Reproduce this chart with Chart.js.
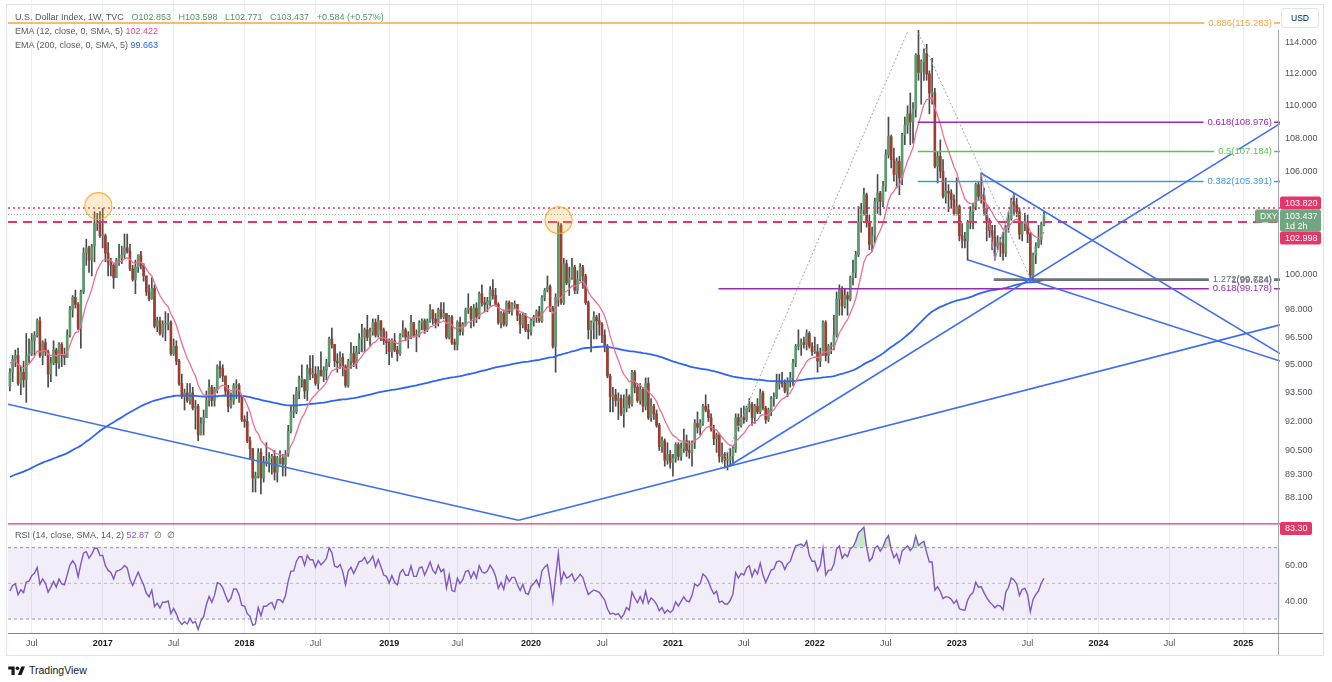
<!DOCTYPE html>
<html>
<head>
<meta charset="utf-8">
<title>DXY weekly</title>
<script src="https://cdn.jsdelivr.net/npm/chart.js@4.4.1/dist/chart.umd.min.js"></script>
<style>
  html, body { margin: 0; padding: 0; background: #fff; }
  #wrap { position: relative; width: 1332px; height: 682px; overflow: hidden; font-family: "Liberation Sans", Arial, sans-serif; }
  #frame { position: absolute; left: 6px; top: 4px; width: 1316px; height: 650px; border: 1px solid #e0e3eb; }
  .pane { position: absolute; left: 0; }
  .lg { position: absolute; left: 15px; font-size: 9px; line-height: 12px; color: #555963; white-space: pre; }
  .lg .v { color: #4f9668; margin-left: 5px; }
  #usd { position: absolute; left: 1281px; top: 8px; width: 36px; height: 18px; border: 1px solid #e0e3eb; border-radius: 3px;
         font-size: 8.5px; line-height: 18px; text-align: center; color: #131722; background: #fff; }
  #vaxis { position: absolute; left: 1278px; top: 30px; width: 1px; height: 625px; background: #a3a6af; }
  #taxis { position: absolute; left: 8px; top: 633px; width: 1315px; height: 1px; background: #80838d; }
  #tv { position: absolute; left: 8px; top: 664px; display: flex; align-items: center; }
  #tv span { font-size: 10.5px; color: #131722; margin-left: 4px; }
</style>
</head>
<body>
<div id="wrap">
  <div id="frame"></div>
  <div class="pane" style="top:0"><canvas id="mainChart" width="1332" height="521" style="width:1332px;height:521px"></canvas></div>
  <div class="pane" style="top:521px"><canvas id="rsiChart" width="1332" height="134" style="width:1332px;height:134px"></canvas></div>
  <div id="vaxis"></div>
  <div id="taxis"></div>
  <div class="lg" style="top:11px">U.S. Dollar Index, 1W, TVC <span class="v">O102.853</span> <span class="v">H103.598</span> <span class="v">L102.771</span> <span class="v">C103.437</span> <span class="v">+0.584 (+0.57%)</span></div>
  <div class="lg" style="top:25px">EMA (12, close, 0, SMA, 5) <span style="color:#e9487a">102.422</span></div>
  <div class="lg" style="top:39px">EMA (200, close, 0, SMA, 5) <span style="color:#2962ff">99.663</span></div>
  <div class="lg" style="top:529px">RSI (14, close, SMA, 14, 2) <span style="color:#7e57c2">52.87</span>  ∅  ∅</div>
  <div id="usd">USD</div>
  <div id="tv">
    <svg width="17" height="11" viewBox="0 0 36 24"><path d="M14 22H7V10H0V3h14v19zM29 22h-8l7.5-19h8L29 22z" fill="#131722"/><circle cx="20" cy="7" r="4" fill="#131722"/></svg>
    <span>TradingView</span>
  </div>
</div>
<script>
// weekly bars, week 0 = 9 May 2016
const firstOpen = 93.85;
const closes = [
  94.6, 95.3, 95.5, 94.0, 94.6, 94.2, 95.5, 95.6, 96.3, 96.6, 97.4, 95.5, 96.2, 95.7, 94.5, 95.1, 95.8, 95.1, 96.1, 95.5, 95.4, 96.6, 98.0, 98.7, 98.3, 97.0, 99.0, 101.2, 101.5, 100.8, 101.6, 102.9, 102.9, 102.2,
  102.2, 101.2, 100.7, 100.5, 99.8, 100.8, 100.9, 101.1, 101.5, 101.3, 100.3, 99.7, 100.4, 101.1, 100.5, 99.9, 99.0, 98.6, 99.2, 97.1, 97.4, 96.7, 97.2, 97.2, 97.3, 95.6, 96.0, 95.2, 94.0, 93.3, 93.5, 93.1, 93.5, 92.7, 92.8, 91.3, 91.9, 92.2, 93.1, 93.8, 93.1, 93.7, 94.9, 94.8, 94.4, 93.6, 92.8, 93.1, 93.9, 93.9, 93.3, 92.1,
  92.0, 91.0, 90.6, 89.1, 89.2, 90.4, 89.1, 89.9, 89.9, 90.1, 90.2, 89.4, 90.1, 90.1, 89.8, 90.3, 91.5, 92.5, 92.5, 93.6, 94.2, 94.2, 93.6, 94.8, 94.5, 94.5, 94.0, 94.7, 94.4, 94.7, 95.1, 96.4, 96.1, 95.2, 95.1, 95.4, 94.9, 93.9, 95.2, 95.6, 95.1, 95.7, 96.4, 96.5, 96.9, 96.5, 96.8, 97.3, 96.6, 97.4, 96.9, 96.3,
  96.2, 95.7, 96.3, 95.8, 95.6, 96.6, 96.9, 96.5, 96.5, 97.3, 96.6, 96.6, 97.3, 97.4, 96.9, 97.4, 98.0, 97.5, 97.3, 98.0, 97.6, 97.8, 96.5, 97.6, 96.2, 96.1, 97.3, 96.8, 97.2, 98.0, 98.1, 97.5, 98.1, 97.6, 98.9, 98.4, 98.3, 98.5, 99.1, 98.8, 98.3, 97.3, 97.8, 97.2, 98.4, 97.9, 98.3, 98.3, 97.7, 97.2, 97.7, 96.9,
  96.8, 97.4, 97.6, 97.9, 97.4, 98.7, 99.1, 99.3, 98.1, 96.0, 98.7, 102.8, 98.4, 100.6, 99.5, 99.8, 100.4, 99.1, 99.7, 100.4, 99.9, 98.4, 96.9, 97.3, 97.6, 97.4, 97.2, 96.6, 96.0, 94.4, 93.3, 93.4, 93.1, 93.2, 92.4, 92.7, 93.3, 92.9, 94.6, 93.8, 93.1, 93.7, 92.8, 94.0, 92.2, 92.8, 92.4, 91.8, 90.7, 91.0, 90.0, 90.3, 89.9,
  90.1, 90.8, 90.2, 90.6, 91.0, 90.5, 90.4, 90.9, 91.9, 91.7, 91.9, 92.8, 92.6, 92.2, 91.6, 91.1, 91.3, 90.2, 90.3, 90.0, 90.0, 90.2, 90.6, 92.2, 91.8, 92.2, 92.1, 92.7, 92.9, 92.2, 92.8, 92.5, 93.5, 92.7, 92.1, 92.6, 93.2, 93.3, 94.0, 94.1, 94.0, 93.6, 94.1, 94.3, 95.1, 96.0, 96.1, 96.2, 96.1, 96.7, 96.0, 95.7,
  95.7, 95.2, 95.6, 97.3, 95.5, 96.0, 96.0, 96.6, 98.6, 99.1, 98.2, 98.8, 98.6, 99.8, 100.1, 101.1, 103.0, 103.7, 104.6, 103.0, 101.7, 102.2, 104.2, 104.7, 104.2, 105.1, 107.0, 108.1, 106.7, 105.8, 106.6, 105.6, 108.2, 108.8, 109.5, 109.0, 109.8, 113.2, 112.1, 112.8, 113.3, 112.0, 110.8, 110.8, 106.3, 106.9, 106.0, 104.5, 104.8, 104.7, 104.3, 103.5,
  103.9, 102.2, 102.0, 101.9, 103.0, 103.6, 103.9, 105.2, 104.5, 104.6, 103.8, 103.1, 102.5, 102.1, 101.6, 101.8, 101.7, 101.2, 102.7, 103.2, 104.2, 104.0, 103.6, 102.3, 102.9, 103.0, 102.3, 99.9, 101.1, 101.6, 102.0, 102.853, 103.437
];
const highs = [
  94.8, 95.5, 95.8, 95.9, 94.9, 95.2, 96.7, 96.4, 96.7, 96.8, 97.5, 97.6, 96.3, 96.4, 95.8, 95.4, 96.3, 95.9, 96.2, 96.2, 95.9, 96.9, 98.2, 98.8, 99.1, 98.4, 99.1, 101.5, 102.0, 101.6, 101.7, 103.6, 103.5, 103.6,
  103.8, 102.3, 101.8, 100.9, 100.6, 100.9, 101.7, 101.6, 102.3, 102.3, 101.7, 100.5, 100.8, 101.1, 101.3, 100.6, 99.5, 99.4, 99.8, 99.4, 97.6, 97.6, 97.4, 97.9, 97.8, 97.4, 96.4, 96.3, 95.3, 94.5, 93.7, 94.0, 94.0, 93.8, 93.1, 92.9, 92.2, 92.6, 93.6, 94.2, 93.9, 93.8, 95.0, 95.2, 95.0, 94.4, 93.9, 93.5, 94.0, 94.2, 94.0, 93.3,
  92.3, 92.5, 91.2, 90.6, 89.4, 90.6, 90.6, 90.2, 90.9, 90.4, 90.3, 90.5, 90.2, 90.5, 90.3, 90.5, 91.8, 92.8, 93.4, 93.8, 94.4, 95.0, 94.2, 95.0, 95.5, 95.5, 94.9, 94.9, 95.7, 94.9, 95.3, 96.5, 97.0, 96.1, 95.6, 95.7, 95.6, 95.0, 95.3, 96.2, 96.0, 96.0, 96.7, 97.2, 97.0, 97.7, 97.0, 97.5, 97.5, 97.7, 97.4, 97.0,
  96.8, 96.4, 96.4, 96.7, 96.0, 96.7, 97.4, 97.0, 96.8, 97.7, 97.3, 96.9, 97.4, 97.5, 97.5, 97.5, 98.3, 98.0, 97.8, 98.1, 98.4, 98.4, 97.8, 97.7, 97.7, 96.4, 97.4, 97.6, 97.3, 98.1, 98.9, 98.2, 98.3, 98.4, 99.0, 99.4, 98.7, 98.7, 99.3, 99.7, 99.2, 98.4, 97.9, 98.0, 98.5, 98.5, 98.4, 98.5, 98.3, 97.8, 97.8, 97.8,
  97.2, 97.5, 97.7, 98.0, 98.2, 98.8, 99.2, 99.9, 99.4, 98.2, 98.9, 103.0, 102.9, 100.9, 100.8, 100.4, 100.9, 100.5, 100.2, 100.6, 100.5, 100.0, 98.5, 97.4, 97.9, 97.7, 97.8, 97.3, 96.9, 96.1, 94.5, 93.8, 93.7, 93.5, 93.4, 93.4, 93.7, 93.4, 94.7, 94.7, 94.0, 94.0, 93.8, 94.3, 94.3, 93.2, 92.9, 92.6, 91.9, 91.2, 91.1, 90.9, 90.5,
  90.3, 90.9, 90.9, 90.9, 91.6, 91.3, 91.0, 91.0, 92.1, 92.5, 92.1, 92.9, 93.4, 92.9, 92.4, 91.8, 91.4, 91.4, 90.9, 90.4, 90.4, 90.6, 90.7, 92.4, 92.4, 92.7, 92.8, 92.8, 93.2, 93.0, 92.9, 93.2, 93.7, 93.6, 92.8, 92.7, 93.3, 93.5, 94.5, 94.5, 94.6, 94.2, 94.3, 94.6, 95.3, 96.1, 96.9, 96.4, 96.5, 96.9, 96.8, 96.2,
  96.5, 96.1, 95.9, 97.4, 97.4, 96.1, 96.2, 97.7, 99.0, 99.4, 99.3, 99.2, 99.0, 99.9, 100.8, 101.3, 103.9, 104.1, 105.0, 104.7, 103.4, 102.7, 104.4, 105.8, 104.8, 105.4, 107.3, 109.3, 108.2, 107.4, 106.8, 106.9, 108.3, 109.3, 110.0, 110.8, 110.2, 113.3, 114.8, 112.9, 113.6, 113.9, 112.2, 113.0, 111.1, 107.2, 107.9, 106.7, 105.6, 105.2, 104.9, 104.6,
  105.6, 104.0, 102.9, 102.4, 103.1, 103.9, 104.1, 105.3, 105.4, 105.9, 105.0, 104.0, 103.2, 102.8, 102.8, 102.2, 102.1, 102.4, 102.8, 103.6, 104.4, 104.7, 104.4, 103.8, 103.0, 103.5, 103.4, 102.4, 101.2, 101.8, 102.8, 103.0, 103.598
];
const lows = [
  93.6, 94.1, 94.9, 93.9, 93.4, 93.8, 93.0, 95.1, 95.5, 95.5, 96.5, 95.4, 95.0, 95.5, 93.8, 94.1, 95.0, 94.4, 94.8, 94.9, 95.0, 95.4, 96.5, 97.6, 98.1, 96.9, 95.9, 98.9, 100.5, 100.1, 99.9, 100.7, 102.5, 102.1,
  101.5, 100.7, 99.9, 99.9, 99.2, 99.8, 100.5, 100.6, 100.9, 101.2, 100.2, 99.6, 98.9, 100.1, 100.3, 99.6, 98.8, 98.5, 98.6, 97.0, 96.8, 96.6, 96.5, 96.3, 96.9, 95.5, 95.5, 95.0, 93.9, 93.2, 92.6, 93.0, 92.9, 92.6, 91.6, 91.0, 91.3, 91.3, 92.2, 92.8, 92.8, 92.8, 93.5, 94.3, 94.1, 93.4, 92.5, 92.7, 92.9, 93.2, 93.0, 92.0,
  91.7, 90.9, 90.1, 88.4, 88.4, 89.1, 88.3, 88.9, 89.7, 89.4, 89.3, 89.0, 88.9, 89.8, 89.2, 89.2, 90.2, 91.4, 92.2, 92.4, 93.2, 93.8, 93.2, 93.1, 94.2, 94.3, 93.9, 93.7, 94.4, 94.1, 94.2, 94.9, 95.9, 94.9, 94.6, 94.8, 94.4, 93.8, 93.8, 94.8, 94.9, 94.8, 95.6, 95.7, 95.7, 96.3, 96.0, 96.6, 96.5, 96.5, 96.3, 96.1,
  95.6, 95.0, 95.4, 95.7, 95.2, 95.5, 96.5, 96.3, 95.9, 96.4, 96.5, 95.7, 96.5, 96.9, 96.7, 96.8, 97.3, 97.2, 97.0, 97.1, 97.5, 97.5, 96.4, 96.4, 96.1, 95.8, 95.8, 96.6, 96.6, 97.1, 97.8, 97.0, 97.1, 97.3, 97.5, 98.2, 97.9, 97.9, 98.2, 98.6, 98.2, 97.2, 97.0, 97.1, 97.1, 97.8, 97.7, 98.1, 97.4, 96.7, 97.0, 96.8,
  96.4, 96.6, 97.1, 97.3, 97.3, 97.3, 98.5, 99.0, 97.9, 95.9, 94.6, 98.2, 98.3, 98.3, 99.4, 98.8, 99.7, 98.9, 98.9, 99.6, 99.2, 98.3, 96.4, 95.7, 96.4, 96.4, 96.6, 96.2, 95.7, 94.3, 92.5, 92.5, 92.8, 92.1, 92.3, 91.7, 92.5, 92.7, 92.8, 93.5, 93.0, 92.9, 92.5, 92.6, 92.1, 92.0, 92.1, 91.7, 90.5, 90.4, 89.7, 89.8, 89.6,
  89.2, 89.9, 90.0, 90.0, 90.4, 90.2, 90.1, 89.7, 90.6, 91.4, 91.3, 91.8, 92.5, 92.0, 91.5, 90.8, 90.4, 89.9, 89.9, 89.6, 89.5, 89.7, 89.8, 90.4, 91.5, 91.7, 91.9, 92.0, 92.5, 91.8, 91.9, 92.4, 92.4, 92.6, 91.9, 92.0, 92.3, 92.8, 93.2, 93.7, 93.8, 93.5, 93.3, 93.8, 93.9, 94.9, 95.8, 95.5, 95.9, 95.8, 95.9, 95.5,
  95.6, 94.6, 94.9, 95.5, 95.2, 95.1, 95.6, 95.8, 96.5, 97.7, 97.7, 98.1, 97.7, 98.5, 99.4, 99.8, 101.0, 102.4, 103.4, 102.7, 101.4, 101.3, 101.8, 103.5, 103.4, 103.9, 104.8, 106.8, 106.2, 105.4, 105.0, 104.6, 105.2, 107.6, 108.3, 107.6, 107.7, 109.3, 111.6, 110.1, 111.6, 111.6, 109.5, 110.1, 106.2, 105.3, 105.6, 104.4, 104.1, 103.6, 103.8, 103.4,
  103.4, 101.9, 101.5, 101.5, 100.8, 102.6, 102.6, 103.7, 104.3, 104.1, 103.4, 101.9, 102.1, 101.4, 100.8, 101.4, 101.0, 100.8, 101.0, 102.4, 103.1, 103.4, 103.3, 102.0, 101.9, 102.5, 101.8, 99.6, 99.6, 100.6, 101.5, 101.7, 102.771
];

// time axis: week index of the first bar of each labelled month
const timeTickWeeks = [8, 34, 60, 86, 112, 139, 164, 191, 217, 243, 269, 295, 321, 347, 373, 399, 425, 452];
const timeTickLabels = ['Jul', '2017', 'Jul', '2018', 'Jul', '2019', 'Jul', '2020', 'Jul', '2021', 'Jul', '2022', 'Jul', '2023', 'Jul', '2024', 'Jul', '2025'];
const priceTicks = [114, 112, 110, 108, 106, 100, 98, 96.5, 95, 93.5, 92, 90.5, 89.3, 88.1];
const rsiTicks = [60, 40];

// indicator seeds (values before the first visible bar)
const ema12Seed = 95.2;
const ema200Seed = 89.1;
const rsiSeedGain = 0.38, rsiSeedLoss = 0.52;

// drawings: [week, price] pairs
const trendLines = [
  [-0.7, 92.9, 186.4, 87.0],
  [186.4, 87.0, 465.5, 97.17],
  [263.4, 89.7, 465.5, 108.9],
  [351, 100.82, 465.5, 95.2],
  [356, 105.88, 465.5, 95.6]
];
const fibRays = [[260.5, 89.61, 329.1, 114.76], [333.1, 114.6, 374.2, 99.7]];
const zigzag = [[356, 105.88], [361, 100.79], [368, 104.7]];
const fibLevels = [
  { from: -0.7, price: 115.283, text: '0.886(115.283)', color: '#f7a542' },
  { from: 332.7, price: 108.976, text: '0.618(108.976)', color: '#9c27b0' },
  { from: 332.7, price: 107.184, text: '0.5(107.184)', color: '#5cc450' },
  { from: 332.7, price: 105.391, text: '0.382(105.391)', color: '#3d9bd8' },
  { from: 360.6, price: 99.724, text: '1.272(99.724)', color: '#6a6d78' },
  { from: 360.6, price: 99.664, text: '1(99.664)', color: '#6a6d78' },
  { from: 259.7, price: 99.178, text: '0.618(99.178)', color: '#9c27b0' }
];
const markCircles = [[32.4, 103.93], [201.1, 103.1]];
const highLine = 103.82, lastClose = 103.437, covidHigh = 102.998;
const rsiHighLine = 83.3;

const X_MIN = -0.7, X_MAX = 465.5;
const FONT = '"Liberation Sans", Arial, sans-serif';

// --- build bars and indicators ---
const opens = closes.map((c, i) => i === 0 ? firstOpen : closes[i - 1]);
const wickData = [], bodyData = [], barColors = [];
closes.forEach((c, i) => {
  const o = opens[i];
  wickData.push({ x: i, y: [Math.min(lows[i], o, c), Math.max(highs[i], o, c)] });
  bodyData.push({ x: i, y: [o, c] });
  barColors.push(c >= o ? '#5b9a6d' : '#9e3d2f');
});

function ema(values, len, seed) {
  const k = 2 / (len + 1);
  let e = seed;
  return values.map((v, i) => { e += k * (v - e); return { x: i, y: e }; });
}

function rsi(values, len, g0, l0) {
  let ag = g0, al = l0;
  return values.map((v, i) => {
    const d = v - (i === 0 ? firstOpen : values[i - 1]);
    ag = (ag * (len - 1) + Math.max(d, 0)) / len;
    al = (al * (len - 1) + Math.max(-d, 0)) / len;
    return { x: i, y: 100 - 100 / (1 + ag / al) };
  });
}

const seg = (a, b, c, d) => [{ x: a, y: b }, { x: c, y: d }];
const flat = (v, from) => seg(from === undefined ? X_MIN : from, v, X_MAX, v);

function lineSet(data, color, width, dash, order) {
  return { type: 'line', data, borderColor: color, borderWidth: width, borderDash: dash || [],
           pointRadius: 0, fill: false, tension: 0, order: order || 2 };
}

const mainSets = [
  { type: 'bar', data: wickData, backgroundColor: '#4b4b4b', barThickness: 1, grouped: false, order: 7 },
  { type: 'bar', data: bodyData, backgroundColor: barColors, barThickness: 2, minBarLength: 1, grouped: false, order: 6 },
  lineSet(ema(closes, 12, ema12Seed), '#ec6f91', 1.3, null, 4),
  lineSet(ema(closes, 200, ema200Seed), '#2f63f5', 1.8, null, 4),
  lineSet(flat(highLine), '#e5366a', 1.5, [2, 3], 3),
  lineSet(flat(covidHigh), '#e5366a', 2, [9, 6], 3),
  lineSet(flat(lastClose), '#9fb3a6', 1, [1, 2], 3),
  lineSet(zigzag.map(p => ({ x: p[0], y: p[1] })), '#b584c9', 1, null, 3)
];
fibLevels.forEach(f => mainSets.push(lineSet(flat(f.price, f.from), f.color, f.color === '#6a6d78' ? 1.6 : 1.5, null, 3)));
fibRays.forEach(l => mainSets.push(lineSet(seg(...l), '#a3a6af', 1, [2, 2], 2)));
trendLines.forEach(l => mainSets.push(lineSet(seg(...l), '#3d6ef2', 1.6, null, 1)));

function box(ctx, x, y, w, h, color, lines) {
  ctx.fillStyle = color;
  ctx.beginPath(); ctx.roundRect(x, y, w, h, 2); ctx.fill();
  ctx.fillStyle = '#fff';
  ctx.textAlign = 'left'; ctx.textBaseline = 'middle';
  lines.forEach((t, i) => ctx.fillText(t, x + 5, y + 6.8 + i * 10));
}

const mainOverlay = {
  id: 'mainOverlay',
  afterDatasetsDraw(chart) {
    const { ctx, chartArea } = chart;
    const x = chart.scales.x, y = chart.scales.y;
    ctx.save();
    markCircles.forEach(c => {
      ctx.beginPath();
      ctx.arc(x.getPixelForValue(c[0]), y.getPixelForValue(c[1]), 13.5, 0, Math.PI * 2);
      ctx.fillStyle = 'rgba(255,167,38,0.22)'; ctx.fill();
      ctx.strokeStyle = 'rgba(255,167,38,0.85)'; ctx.lineWidth = 1.2; ctx.stroke();
    });
    ctx.font = '9.5px ' + FONT;
    ctx.textAlign = 'right'; ctx.textBaseline = 'middle';
    const tx = chartArea.right - 8;
    fibLevels.forEach(f => {
      const py = y.getPixelForValue(f.price);
      const w = ctx.measureText(f.text).width;
      ctx.fillStyle = '#fff';
      ctx.fillRect(tx - w - 4, py - 2, w + 6, 4);
    });
    fibLevels.forEach(f => {
      ctx.fillStyle = f.color;
      ctx.fillText(f.text, tx, y.getPixelForValue(f.price));
    });
    ctx.restore();
  },
  afterDraw(chart) {
    const { ctx, chartArea } = chart;
    const y = chart.scales.y;
    const gy = y.getPixelForValue(lastClose);
    const bx = chartArea.right;
    ctx.save();
    ctx.font = '9px ' + FONT;
    box(ctx, bx, gy - 18, 41, 13, '#e5366a', [highLine.toFixed(3)]);
    box(ctx, bx, gy - 5, 41, 22, '#70a680', [lastClose.toFixed(3), '1d 2h']);
    box(ctx, bx, gy + 17, 41, 13, '#e5366a', [covidHigh.toFixed(3)]);
    ctx.font = '8.5px ' + FONT;
    box(ctx, bx - 25, gy - 5, 24, 13, '#70a680', ['DXY']);
    ctx.restore();
  }
};

const xGrid = { color: '#eceef2', lineWidth: 1, drawTicks: false, offset: false };
// right price axis: fixed width, no extra top/bottom padding for labels
const fitRight = s => { s.width = 52; s.paddingTop = 0; s.paddingBottom = 0; };

new Chart(document.getElementById('mainChart'), {
  type: 'bar',
  data: { datasets: mainSets },
  options: {
    responsive: false, animation: false, devicePixelRatio: 1,
    layout: { padding: { left: 8, right: 0, top: 0, bottom: 0 } },
    plugins: { legend: { display: false }, tooltip: { enabled: false } },
    scales: {
      x: {
        type: 'linear', min: X_MIN, max: X_MAX, offset: false,
        afterBuildTicks: s => { s.ticks = timeTickWeeks.map(v => ({ value: v })); },
        afterFit: s => { s.height = 0; s.paddingLeft = 0; s.paddingRight = 0; },
        ticks: { display: false }, grid: xGrid, border: { display: false }
      },
      y: {
        type: 'logarithmic', position: 'right', min: 86.96, max: 116.79,
        afterBuildTicks: s => { s.ticks = priceTicks.map(v => ({ value: v })); },
        afterFit: fitRight,
        ticks: { callback: v => Number(v).toFixed(3), color: '#50535e', padding: 5, autoSkip: false,
                 font: { size: 9, family: FONT } },
        grid: { display: false, drawTicks: false }, border: { display: false }
      }
    }
  },
  plugins: [mainOverlay]
});

// --- RSI pane ---
const rsiOverlay = {
  id: 'rsiOverlay',
  afterDraw(chart) {
    const { ctx, chartArea } = chart;
    ctx.save();
    ctx.font = '9px ' + FONT;
    box(ctx, chartArea.right, chartArea.top + 1, 32, 13, '#e5366a', [rsiHighLine.toFixed(2)]);
    ctx.restore();
  }
};

new Chart(document.getElementById('rsiChart'), {
  type: 'line',
  data: {
    datasets: [
      { data: flat(70), borderColor: '#9598a1', borderWidth: 1, borderDash: [3, 3], pointRadius: 0,
        fill: '+1', backgroundColor: 'rgba(126,87,194,0.1)', order: 3 },
      { data: flat(30), borderColor: '#9598a1', borderWidth: 1, borderDash: [3, 3], pointRadius: 0, fill: false, order: 3 },
      { data: flat(50), borderColor: 'rgba(149,152,161,0.6)', borderWidth: 1, borderDash: [3, 3], pointRadius: 0, fill: false, order: 3 },
      { data: flat(rsiHighLine), borderColor: '#e5366a', borderWidth: 1.2, pointRadius: 0, fill: false, order: 2 },
      { data: rsi(closes, 14, rsiSeedGain, rsiSeedLoss), borderColor: '#7e57c2', borderWidth: 1.4, pointRadius: 0,
        fill: { target: { value: 70 }, above: 'rgba(76,175,80,0.3)', below: 'rgba(0,0,0,0)' }, order: 1 }
    ]
  },
  options: {
    responsive: false, animation: false, devicePixelRatio: 1,
    layout: { padding: { left: 8, right: 0, top: 0, bottom: 0 } },
    plugins: { legend: { display: false }, tooltip: { enabled: false } },
    scales: {
      x: {
        type: 'linear', min: X_MIN, max: X_MAX, offset: false,
        afterBuildTicks: s => { s.ticks = timeTickWeeks.map(v => ({ value: v })); },
        afterFit: s => { s.height = 22; s.paddingLeft = 0; s.paddingRight = 0; },
        ticks: {
          callback: v => timeTickLabels[timeTickWeeks.indexOf(v)],
          autoSkip: false, maxRotation: 0, padding: 5,
          color: c => /^\d/.test(timeTickLabels[c.index] || '') ? '#131722' : '#50535e',
          font: c => ({ size: 9, family: FONT, weight: /^\d/.test(timeTickLabels[c.index] || '') ? 'bold' : 'normal' })
        },
        grid: xGrid, border: { display: false }
      },
      y: {
        position: 'right', min: 22.2, max: 84.9,
        afterBuildTicks: s => { s.ticks = rsiTicks.map(v => ({ value: v })); },
        afterFit: fitRight,
        ticks: { callback: v => Number(v).toFixed(2), color: '#50535e', padding: 5, font: { size: 9, family: FONT } },
        grid: { display: false, drawTicks: false }, border: { display: false }
      }
    }
  },
  plugins: [rsiOverlay]
});
</script>
</body>
</html>
